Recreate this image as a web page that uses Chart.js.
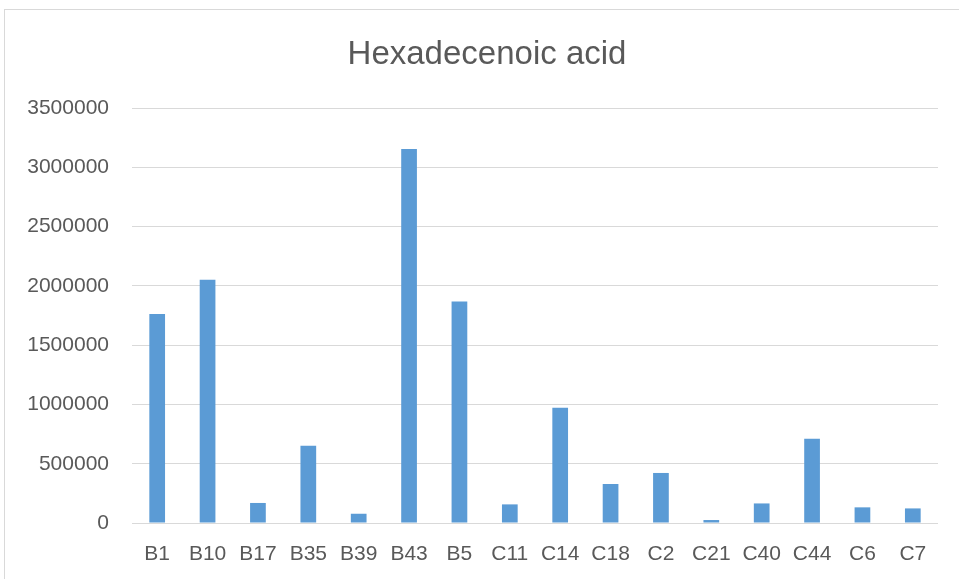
<!DOCTYPE html>
<html>
<head>
<meta charset="utf-8">
<script src="https://cdn.jsdelivr.net/npm/chart.js@4/dist/chart.umd.min.js"></script>
<style>
  html, body { margin: 0; padding: 0; background: #ffffff; overflow: hidden; }
  #wrap { position: relative; width: 959px; height: 579px; overflow: hidden; }
  #frame { position: absolute; left: 4px; top: 9px; width: 1000px; height: 1000px;
           border: 1px solid #D9D9D9; box-sizing: border-box; }
  #c { position: absolute; left: 0; top: 0; }
</style>
</head>
<body>
<div id="wrap">
  <div id="frame"></div>
  <canvas id="c" width="959" height="579"></canvas>
</div>
<script>
// Sample names along the x axis
const categories = ['B1', 'B10', 'B17', 'B35', 'B39', 'B43', 'B5', 'C11',
                    'C14', 'C18', 'C2', 'C21', 'C40', 'C44', 'C6', 'C7'];

// Peak area for hexadecenoic acid per sample
const hexadecenoicValues = [1763000, 2052000, 169000, 652000, 78000, 3154000, 1869000, 157000,
                            972000, 329000, 422000, 25000, 165000, 711000, 132000, 123000];

// Y axis range and step
const yMin = 0;
const yMax = 3500000;
const yStep = 500000;

const chartTitle = 'Hexadecenoic acid';

const labelFont = { family: "'Liberation Sans', Arial, sans-serif", size: 21 };
const textColor = '#595959';
const gridColor = '#D9D9D9';

// Title centred over the whole chart frame rather than the canvas
const frameTitle = {
  id: 'frameTitle',
  afterDraw(chart) {
    const ctx = chart.ctx;
    ctx.save();
    ctx.font = "33px 'Liberation Sans', Arial, sans-serif";
    ctx.fillStyle = textColor;
    ctx.textAlign = 'center';
    ctx.textBaseline = 'middle';
    ctx.fillText(chartTitle, 487, 55);
    ctx.restore();
  }
};

new Chart(document.getElementById('c'), {
  type: 'bar',
  data: {
    labels: categories,
    datasets: [{
      label: chartTitle,
      data: hexadecenoicValues,
      backgroundColor: '#5B9BD5',
      borderWidth: 0,
      categoryPercentage: 0.312,
      barPercentage: 1.0
    }]
  },
  plugins: [frameTitle],
  options: {
    responsive: false,
    animation: false,
    devicePixelRatio: 1,
    layout: { padding: { left: 0, right: 21, top: 108, bottom: 0 } },
    plugins: {
      legend: { display: false },
      tooltip: { enabled: false },
      title: { display: false }
    },
    scales: {
      x: {
        grid: { display: false, drawTicks: false },
        border: { display: false },
        ticks: { color: textColor, font: labelFont, padding: 19, maxRotation: 0, autoSkip: false },
        afterFit: (scale) => { scale.height = 56; }
      },
      y: {
        min: yMin,
        max: yMax,
        grid: { color: gridColor, lineWidth: 1, drawTicks: false },
        border: { display: false },
        ticks: { stepSize: yStep, color: textColor, font: labelFont, padding: 23,
                 callback: (v) => String(v) },
        afterFit: (scale) => { scale.width = 132; }
      }
    }
  }
});
</script>
</body>
</html>
